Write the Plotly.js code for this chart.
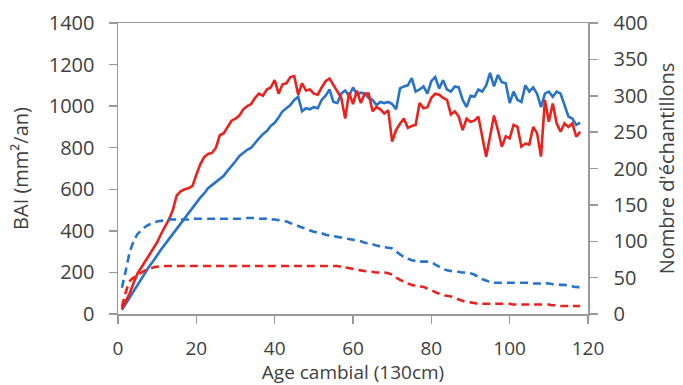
<!DOCTYPE html>
<html>
<head>
<meta charset="utf-8">
<script src="https://cdn.plot.ly/plotly-3.0.1.min.js"></script>
<style>html,body{margin:0;padding:0;background:#fff;}#chart{width:683px;height:385px;}</style>
</head>
<body>
<div id="chart"></div>
<script>
const age = [1,2,3,4,5,6,7,8,9,10,11,12,13,14,15,16,17,18,19,20,21,22,23,24,25,26,27,28,29,30,31,32,33,34,35,36,37,38,39,40,41,42,43,44,45,46,47,48,49,50,51,52,53,54,55,56,57,58,59,60,61,62,63,64,65,66,67,68,69,70,71,72,73,74,75,76,77,78,79,80,81,82,83,84,85,86,87,88,89,90,91,92,93,94,95,96,97,98,99,100,101,102,103,104,105,106,107,108,109,110,111,112,113,114,115,116,117,118];

const baiBlue = [20,50,80,110,140,170,205,230,255,285,
310,335,360,385,410,435,460,485,510,540,
560,580,605,620,635,650,665,690,710,735,
760,775,790,800,825,845,865,880,905,920,
945,975,990,1005,1030,1045,975,990,985,995,
990,1030,1050,1080,1020,1015,1060,1075,1050,1090,
1055,1065,1060,1040,1030,1005,1020,1015,1020,1010,
985,1085,1095,1100,1135,1070,1080,1095,1060,1120,
1140,1085,1125,1080,1070,1095,1090,1030,995,1050,
1045,1080,1070,1100,1160,1095,1150,1115,1110,1015,
1070,1030,1020,1100,1070,1090,1060,995,1060,1070,
1045,1070,1060,1010,950,940,910,920];

const baiRed = [25,60,100,150,195,225,255,285,310,345,
385,420,455,500,570,590,600,605,615,670,
720,755,770,775,800,860,870,900,930,940,
955,985,1000,1010,1040,1060,1050,1080,1090,1125,
1060,1105,1110,1140,1145,1055,1110,1075,1080,1060,
1055,1090,1120,1133,1100,1070,1040,940,1065,1010,
1075,1015,1060,1060,975,995,985,965,980,830,
885,915,940,895,905,910,1015,990,995,1040,
1060,1055,1040,1030,960,975,950,885,940,925,
930,950,850,757,855,955,885,805,855,845,
910,900,805,820,815,900,870,757,1030,925,
1013,917,877,917,900,917,853,877];

const nBlue = [36,60,85,100,110,115,120,123,125,127,
128,129,130,130,130,130,130,130,131,131,
131,131,131,131,131,131,131,131,131,131,
131,131,132,132,132,131,131,131,130,130,
129,128,127,125,123,121,119,117,115,113,
112,111,109,108,107,106,105,104,103,102,
101,100,98,97,96,94,93,92,91,90,
86,82,78,76,74,73,72,72,72,71,
68,65,62,60,59,58,58,57,57,56,
54,51,48,46,44,43,43,43,43,43,
43,43,43,43,43,42,42,42,42,42,
41,41,40,40,39,38,37,37];

const nRed = [10,30,45,50,53,57,60,62,64,65,
66,66,66,66,66,66,66,66,66,66,
66,66,66,66,66,66,66,66,66,66,
66,66,66,66,66,66,66,66,66,66,
66,66,66,66,66,66,66,66,66,66,
66,66,66,66,66,66,65,64,63,62,
61,60,59,58,58,57,57,57,56,54,
50,47,44,42,40,39,38,37,35,33,
30,28,26,25,24,22,20,18,17,16,
15,14,14,14,14,14,14,14,14,14,
13,13,13,13,13,13,13,13,13,13,
12,12,11,11,11,11,11,11];

const xTicks = [0,20,40,60,80,100,120];
const yTicks = [0,200,400,600,800,1000,1200,1400];
const y2Ticks = [0,50,100,150,200,250,300,350,400];

const blue = 'rgb(40,115,200)';
const red = 'rgb(232,35,30)';
const font = {family: 'Open Sans, sans-serif', size: 20, color: '#404040'};
const xTickFont = {family: 'Open Sans, sans-serif', size: 19, color: '#404040'};
const xTitleFont = {family: 'Open Sans, sans-serif', size: 19, color: '#404040'};

const traces = [
  {x: age, y: nBlue, yaxis: 'y2', type: 'scatter', mode: 'lines', line: {color: blue, width: 2.6, dash: '8px,5px', shape: 'spline', smoothing: 0.6}},
  {x: age, y: nRed, yaxis: 'y2', type: 'scatter', mode: 'lines', line: {color: red, width: 2.6, dash: '8px,5px', shape: 'spline', smoothing: 0.6}},
  {x: age, y: baiBlue, type: 'scatter', mode: 'lines', line: {color: blue, width: 2.6}},
  {x: age, y: baiRed, type: 'scatter', mode: 'lines', line: {color: red, width: 2.6}}
];

const axisLine = '#9a9a9a';
const layout = {
  width: 683, height: 385,
  margin: {l: 118, r: 95, t: 23, b: 71},
  paper_bgcolor: '#fff', plot_bgcolor: '#fff',
  showlegend: false,
  font: font,
  xaxis: {
    range: [0, 120], tickvals: xTicks, ticktext: xTicks.map(String),
    showgrid: false, zeroline: false, showline: true, mirror: true,
    linecolor: axisLine, linewidth: 1.5,
    ticks: 'outside', ticklen: 8, tickcolor: axisLine, tickwidth: 1.5,
    ticklabelstandoff: 9,
    tickfont: xTickFont,
    title: {text: 'Age cambial (130cm)', font: xTitleFont, standoff: 7}
  },
  yaxis: {
    range: [0, 1400], tickvals: yTicks, ticktext: yTicks.map(String),
    showgrid: false, zeroline: false, showline: true,
    linecolor: axisLine, linewidth: 1.5,
    ticks: 'outside', ticklen: 8, tickcolor: axisLine, tickwidth: 1.5,
    ticklabelstandoff: 10,
    tickfont: font,
    title: {text: 'BAI (mm²/an)', font: font, standoff: 15}
  },
  yaxis2: {
    range: [0, 400], tickvals: y2Ticks, ticktext: y2Ticks.map(String),
    overlaying: 'y', side: 'right',
    showgrid: false, zeroline: false, showline: true,
    linecolor: axisLine, linewidth: 1.5,
    ticks: 'outside', ticklen: 8, tickcolor: axisLine, tickwidth: 1.5,
    ticklabelstandoff: 12,
    tickfont: font,
    title: {text: "Nombre d'échantillons", font: font, standoff: 13}
  }
};

Plotly.newPlot('chart', traces, layout, {staticPlot: true, displayModeBar: false});
</script>
</body>
</html>
